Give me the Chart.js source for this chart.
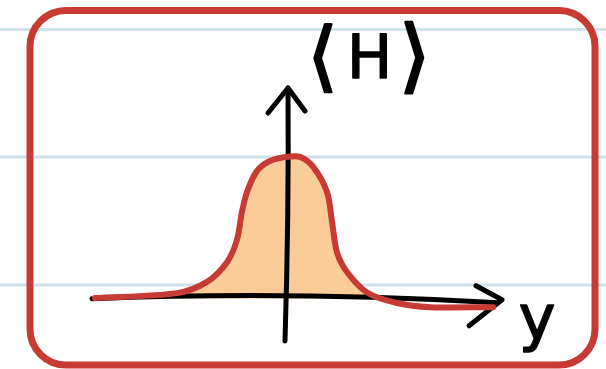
<!DOCTYPE html>
<html>
<head>
<meta charset="utf-8">
<script src="https://cdn.jsdelivr.net/npm/chart.js@4/dist/chart.umd.min.js"></script>
<style>
  html, body { margin: 0; padding: 0; background: #fff; }
  #wrap { width: 606px; height: 369px; }
</style>
</head>
<body>
<div id="wrap"><canvas id="grafico"></canvas></div>
<script>
const yPos = [-3.84, -2.2, -1.6, -1.2, -1.0, -0.9, -0.8, -0.6, -0.34, 0, 0.26, 0.52, 0.8, 0.9, 1.0, 1.2, 1.6, 2.2, 2.86, 4.12];
const hValues = [0.005, 0.04, 0.12, 0.26, 0.42, 0.62, 0.76, 0.91, 0.98, 1.01, 1.01, 0.94, 0.76, 0.55, 0.33, 0.19, 0.045, -0.03, -0.06, -0.06];

// limites dos eixos desenhados à mão
const xAxisRange = [-3.9, 4.3];
const yAxisRange = [-0.3, 1.5];
const labelH = ['⟨', 'H', '⟩'];
const labelY = 'y';

const pontos = yPos.map((x, i) => ({ x: x, y: hValues[i] }));

const vermelho = 'rgb(200, 58, 52)';
const laranja = 'rgb(252, 204, 152)';
const azulPapel = 'rgb(208, 226, 236)';

// fundo: linhas do caderno + moldura vermelha
const fundo = {
  id: 'fundo',
  beforeDraw(chart) {
    const ctx = chart.ctx;
    ctx.save();
    ctx.fillStyle = '#fff';
    ctx.fillRect(0, 0, chart.width, chart.height);
    ctx.strokeStyle = azulPapel;
    ctx.lineWidth = 3;
    [29.5, 157, 285].forEach(py => {
      ctx.beginPath();
      ctx.moveTo(0, py);
      ctx.lineTo(chart.width, py);
      ctx.stroke();
    });
    ctx.strokeStyle = vermelho;
    ctx.lineWidth = 7;
    ctx.beginPath();
    ctx.roundRect(30, 10.5, 565, 354.5, 36);
    ctx.stroke();
    ctx.restore();
  }
};

// eixos com setas, desenhados logo depois do preenchimento (dataset 1)
const eixos = {
  id: 'eixos',
  afterDatasetDraw(chart, args) {
    if (args.index !== 1) return;
    const ctx = chart.ctx;
    const sx = chart.scales.x, sy = chart.scales.y;
    const x0 = sx.getPixelForValue(0), y0 = sy.getPixelForValue(0);
    const xa = sx.getPixelForValue(xAxisRange[0]), xb = sx.getPixelForValue(xAxisRange[1]);
    const ya = sy.getPixelForValue(yAxisRange[0]), yb = sy.getPixelForValue(yAxisRange[1]);
    ctx.save();
    ctx.strokeStyle = '#000';
    ctx.lineWidth = 5;
    ctx.lineCap = 'round';
    ctx.lineJoin = 'round';
    // eixo horizontal
    ctx.beginPath();
    ctx.moveTo(xa, y0);
    ctx.quadraticCurveTo(x0, y0 - 8, xb - 4, y0 + 4);
    ctx.stroke();
    ctx.beginPath();
    ctx.moveTo(xb - 26, y0 - 13);
    ctx.lineTo(xb, y0 + 1);
    ctx.lineTo(xb - 33, y0 + 27);
    ctx.stroke();
    // eixo vertical
    ctx.beginPath();
    ctx.moveTo(x0 - 2, ya);
    ctx.quadraticCurveTo(x0 + 2, (ya + yb) / 2, x0 + 1, yb);
    ctx.stroke();
    ctx.beginPath();
    ctx.moveTo(x0 - 19, yb + 25);
    ctx.lineTo(x0 + 1, yb);
    ctx.lineTo(x0 + 18, yb + 23);
    ctx.stroke();
    ctx.restore();
  },
  afterDraw(chart) {
    const ctx = chart.ctx;
    const sx = chart.scales.x, sy = chart.scales.y;
    ctx.save();
    ctx.fillStyle = '#000';
    ctx.strokeStyle = '#000';
    ctx.lineJoin = 'round';
    ctx.textAlign = 'center';
    ctx.textBaseline = 'middle';
    // ⟨H⟩ montado em três partes, com colchetes mais altos
    const hy = sy.getPixelForValue(1.68);
    const partes = [
      { t: labelH[0], x: 0.71, size: 76, w: 2.5 },
      { t: labelH[1], x: 1.65, size: 60, w: 1.5 },
      { t: labelH[2], x: 2.55, size: 80, w: 2.5 }
    ];
    partes.forEach(p => {
      ctx.font = p.size + 'px "DejaVu Sans"';
      ctx.lineWidth = p.w;
      const px = sx.getPixelForValue(p.x);
      ctx.fillText(p.t, px, hy);
      ctx.strokeText(p.t, px, hy);
    });
    ctx.lineWidth = 1.5;
    ctx.font = '62px "DejaVu Sans"';
    const lx = sx.getPixelForValue(5.0), ly = sy.getPixelForValue(-0.17);
    ctx.fillText(labelY, lx, ly);
    ctx.strokeText(labelY, lx, ly);
    ctx.restore();
  }
};

const ctx = document.getElementById('grafico').getContext('2d');
new Chart(ctx, {
  type: 'line',
  data: {
    datasets: [
      {
        // curva vermelha (fica por cima)
        data: pontos,
        borderColor: vermelho,
        borderWidth: 6,
        borderCapStyle: 'round',
        borderJoinStyle: 'round',
        pointRadius: 0,
        fill: false,
        tension: 0.3,
        clip: false
      },
      {
        // preenchimento laranja sob a curva, só acima do eixo
        data: pontos,
        borderWidth: 0,
        pointRadius: 0,
        backgroundColor: laranja,
        fill: { target: 'origin', above: laranja, below: 'rgba(0,0,0,0)' },
        tension: 0.3,
        clip: false
      }
    ]
  },
  options: {
    responsive: true,
    maintainAspectRatio: false,
    animation: false,
    layout: { padding: { left: 87, right: 69, top: 88, bottom: 0 } },
    plugins: { legend: { display: false }, tooltip: { enabled: false } },
    scales: {
      x: { type: 'linear', min: -4, max: 5, display: false },
      y: { type: 'linear', min: -0.5, max: 1.5, display: false }
    }
  },
  plugins: [fundo, eixos]
});
</script>
</body>
</html>
